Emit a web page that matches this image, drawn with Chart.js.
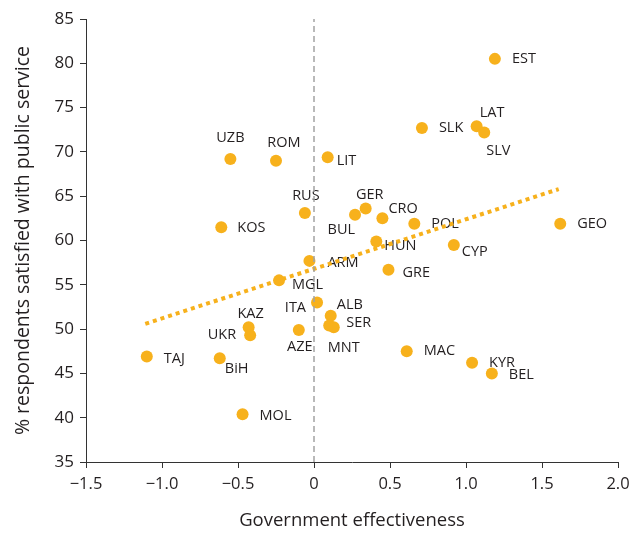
<!DOCTYPE html>
<html>
<head>
<meta charset="utf-8">
<script src="https://cdn.jsdelivr.net/npm/chart.js@4.4.1/dist/chart.umd.min.js"></script>
<style>
  html, body { margin: 0; padding: 0; background: #ffffff; }
  #wrap { width: 639px; height: 535px; }
</style>
</head>
<body>
<div id="wrap"><canvas id="c" width="639" height="535"></canvas></div>
<script>
// ---- Data ----
const countries = ['EST','SLK','LAT','SLV','UZB','ROM','LIT','RUS','KOS','BUL','GER','CRO','POL','HUN','CYP','GRE','GEO','ARM','MGL','ITA','ALB','SER','MNT','KAZ','UKR','AZE','TAJ','BiH','MOL','MAC','KYR','BEL'];
const govEffectiveness = [1.19, 0.71, 1.07, 1.12, -0.55, -0.25, 0.09, -0.06, -0.61, 0.27, 0.34, 0.45, 0.66, 0.41, 0.92, 0.49, 1.62, -0.03, -0.23, 0.02, 0.11, 0.10, 0.13, -0.43, -0.42, -0.10, -1.10, -0.62, -0.47, 0.61, 1.04, 1.17];
const satisfiedPct = [80.5, 72.7, 72.9, 72.2, 69.2, 69.0, 69.4, 63.1, 61.5, 62.9, 63.6, 62.5, 61.9, 59.9, 59.5, 56.7, 61.9, 57.7, 55.5, 53.0, 51.5, 50.4, 50.2, 50.2, 49.3, 49.9, 46.9, 46.7, 40.4, 47.5, 46.2, 45.0];
const trendX = [-1.11, 1.61];
const trendY = [50.6, 65.8];
const zeroLineY = [35, 85];
const xTickValues = [-1.5, -1.0, -0.5, 0, 0.5, 1.0, 1.5, 2.0];
const yTickValues = [35, 40, 45, 50, 55, 60, 65, 70, 75, 80, 85];

// ---- Label placement (style) ----
const labelPlacement = {
  EST:[17,0,'left'], SLK:[17,0,'left'], LAT:[3,-13,'left'], SLV:[2,18,'left'],
  UZB:[0,-21,'center'], ROM:[8,-18,'center'], LIT:[9,4,'left'], RUS:[1,-17,'center'],
  KOS:[16,1,'left'], BUL:[0,15,'right'], GER:[4,-14,'center'], CRO:[6,-9,'left'],
  POL:[17,0,'left'], HUN:[8,4,'left'], CYP:[8,7,'left'], GRE:[14,3,'left'],
  GEO:[17,0,'left'], ARM:[18,2,'left'], MGL:[13,5,'left'], ITA:[-11,5,'right'],
  ALB:[6,-11,'left'], SER:[17,-3,'left'], MNT:[-6,21,'left'], KAZ:[2,-13,'center'],
  UKR:[-14,0,'right'], AZE:[1,17,'center'], TAJ:[17,2,'left'], BiH:[5,11,'left'],
  MOL:[17,2,'left'], MAC:[17,0,'left'], KYR:[17,0,'left'], BEL:[17,1,'left']
};

const FONT = "'Open Sans', 'DejaVu Sans', sans-serif";
const TEXT = '#231f20';
const ORANGE = '#f7b11c';

const scatterData = countries.map((c, i) => ({ x: govEffectiveness[i], y: satisfiedPct[i] }));
const trendData = trendX.map((x, i) => ({ x: x, y: trendY[i] }));
const zeroData = zeroLineY.map(y => ({ x: 0, y: y }));

const labelPlugin = {
  id: 'pointLabels',
  beforeDatasetsDraw(chart) {
    const meta = chart.getDatasetMeta(1);
    const ctx = chart.ctx;
    ctx.save();
    ctx.font = "14.5px " + FONT;
    ctx.fillStyle = TEXT;
    ctx.textBaseline = 'middle';
    meta.data.forEach((el, i) => {
      const name = countries[i];
      const p = labelPlacement[name] || [12, 0, 'left'];
      ctx.textAlign = p[2];
      ctx.fillText(name, el.x + p[0], el.y + p[1]);
    });
    ctx.restore();
  }
};

new Chart(document.getElementById('c'), {
  type: 'scatter',
  data: {
    datasets: [
      {
        type: 'line',
        data: zeroData,
        borderColor: '#a3a3a3',
        borderWidth: 1.5,
        borderDash: [6, 4],
        pointRadius: 0,
        fill: false
      },
      {
        data: scatterData,
        backgroundColor: ORANGE,
        borderColor: ORANGE,
        borderWidth: 0,
        pointRadius: 6,
        pointHoverRadius: 6
      },
      {
        type: 'line',
        data: trendData,
        borderColor: ORANGE,
        borderWidth: 4,
        borderDash: [4, 4],
        borderCapStyle: 'butt',
        pointRadius: 0,
        fill: false
      }
    ]
  },
  options: {
    responsive: false,
    animation: false,
    events: [],
    layout: { padding: { top: 19, right: 21, left: 0, bottom: 0 } },
    plugins: { legend: { display: false }, tooltip: { enabled: false } },
    scales: {
      x: {
        type: 'linear',
        min: -1.5, max: 2.0,
        afterBuildTicks: (s) => { s.ticks = xTickValues.map(v => ({ value: v })); },
        afterFit: (s) => { s.height = 73; },
        ticks: {
          font: { family: FONT, size: 16.5 },
          color: TEXT,
          padding: 6,
          maxRotation: 0,
          callback: (v) => v === 0 ? '0' : v.toFixed(1).replace('-', '\u2212')
        },
        grid: { drawOnChartArea: false, drawTicks: true, tickLength: 6, color: '#333333', lineWidth: 1 },
        border: { color: '#333333', width: 1 },
        title: { display: true, text: 'Government effectiveness', font: { family: FONT, size: 18.5 }, color: TEXT, padding: { top: 8, bottom: 3 } }
      },
      y: {
        type: 'linear',
        min: 35, max: 85,
        afterBuildTicks: (s) => { s.ticks = yTickValues.map(v => ({ value: v })); },
        afterFit: (s) => { s.width = 86; },
        ticks: {
          font: { family: FONT, size: 17 },
          color: TEXT,
          padding: 6
        },
        grid: { drawOnChartArea: false, drawTicks: true, tickLength: 6, color: '#333333', lineWidth: 1 },
        border: { color: '#333333', width: 1 },
        title: { display: true, text: '% respondents satisfied with public service', font: { family: FONT, size: 19.5 }, color: TEXT, padding: { top: 12, bottom: 4 } }
      }
    }
  },
  plugins: [labelPlugin]
});
</script>
</body>
</html>
